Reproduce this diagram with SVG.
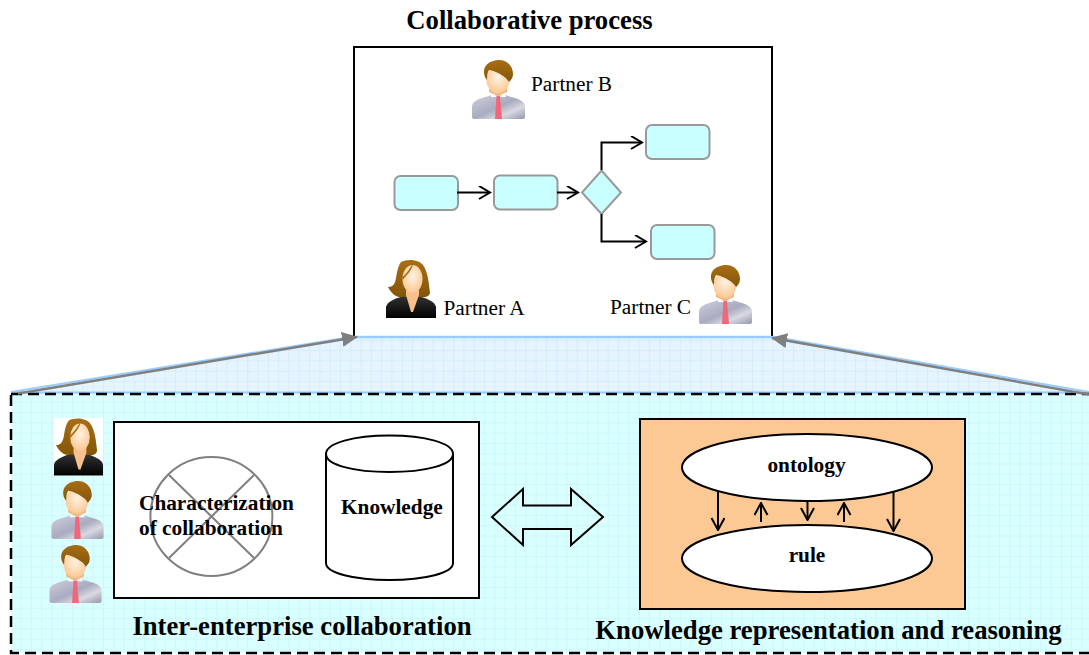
<svg xmlns="http://www.w3.org/2000/svg" width="1089" height="655" viewBox="0 0 1089 655">
<style>
text{font-family:"Liberation Serif","Times New Roman",serif;fill:#000}
.b{font-weight:bold}
.p{font-size:21.3px}
.h{font-size:26.7px}
.s{font-size:21.3px}
.t{fill:#c9ffff;stroke:#999;stroke-width:2}
.k{fill:none;stroke:#000;stroke-width:2;marker-end:url(#o)}
.m{fill:none;stroke:#000;stroke-width:2;marker-end:url(#s)}
.g{stroke:#7f7f7f;stroke-width:2.5;fill:none;marker-end:url(#g)}
</style>
<defs>
<marker id="o" markerWidth="14" markerHeight="14" refX="12" refY="7" orient="auto" markerUnits="userSpaceOnUse"><path d="M1 0.5L12 7L1 13.5" fill="none" stroke="#000" stroke-width="2"/></marker>
<marker id="s" markerWidth="14" markerHeight="16" refX="13" refY="7" orient="auto" markerUnits="userSpaceOnUse"><path d="M1 0.5L13 7L1 13.5" fill="none" stroke="#000" stroke-width="2"/></marker>
<marker id="g" markerWidth="18" markerHeight="16" refX="15" refY="8" orient="auto" markerUnits="userSpaceOnUse"><path d="M0 0.5L16 8L0 15.5Z" fill="#7f7f7f"/></marker>
<pattern id="gc" width="10.3" height="10.3" patternUnits="userSpaceOnUse"><rect width="10.3" height="10.3" fill="#d9ffff"/><path d="M0 .5H10.3M.5 0V10.3" stroke="#ccf7fc" stroke-width="1"/></pattern>
<pattern id="gb" width="10.3" height="10.3" patternUnits="userSpaceOnUse"><rect width="10.3" height="10.3" fill="#e5f4fe"/><path d="M0 .5H10.3M.5 0V10.3" stroke="#d5ecfb" stroke-width="1"/></pattern>
<linearGradient id="suit" x1="0" y1="0" x2="1" y2="1"><stop offset="0" stop-color="#d0d1dc"/><stop offset=".5" stop-color="#a9abc0"/><stop offset=".72" stop-color="#d8d9e2"/><stop offset="1" stop-color="#9496ac"/></linearGradient>
<linearGradient id="hair" x1="0" y1="0" x2="0" y2="1"><stop offset="0" stop-color="#a86e14"/><stop offset="1" stop-color="#825608"/></linearGradient>
<radialGradient id="face" cx=".5" cy=".4" r=".65"><stop offset="0" stop-color="#fff2e2"/><stop offset="1" stop-color="#fbc48c"/></radialGradient>
<linearGradient id="blk" x1="0" y1="0" x2="0" y2="1"><stop offset="0" stop-color="#333"/><stop offset="1" stop-color="#000"/></linearGradient>
<symbol id="man" viewBox="0 0 53 59" overflow="visible">
<path d="M0 57V47C0 42 4 40 10 38L20 35H33L43 38C49 40 53 42 53 47V57Q53 59 50 59H3Q0 59 0 57Z" fill="url(#suit)"/>
<path d="M19 34.500L26 36L33 34.500L34 37H19Z" fill="#fff"/>
<path d="M24.500 36H28L30 59H23Z" fill="#f2667a"/>
<path d="M17 26H35V32L26 36L17 32Z" fill="#f3b57e"/>
<ellipse cx="26" cy="20" rx="11.500" ry="13.500" fill="url(#face)"/>
<path d="M15 20C12 17 11 11 13 7C16 2 22 0 27 0C35 0 41 6 41 14C41 17 40 19 37 22C35 18 30 15 26 13C22 11 19 10 17 10C15 13 15 17 15 20Z" fill="url(#hair)"/>
</symbol>
<symbol id="woman" viewBox="0 0 50 58" overflow="visible">
<path d="M0 58V47C1 42 8 39 17 36L33 36C42 39 49 42 50 47V58Z" fill="url(#blk)"/>
<path d="M15 2C21 -1 32 -1 37 5C42 12 43 24 44 33C43 37 38 38 34 37L16 37C12 38 6 35 2 27C7 27 9 24 10 18C11 12 12 6 15 2Z" fill="url(#hair)"/>
<path d="M20 30H33V35L27 52H25L20 35Z" fill="#f6c08e"/>
<ellipse cx="26.500" cy="19" rx="10" ry="14" fill="url(#face)"/>
<path d="M16.500 17C20 14 24 9 27 3C27 9 21 15 16.500 20Z" fill="#a06c16"/>
</symbol>
</defs>

<g id="bottom-panel">
<path d="M357 337H772L1089 394H11Z" fill="url(#gb)"/>
<rect x="11" y="394" width="1090" height="259" fill="url(#gc)"/>
<path d="M772 336.500L1089 392M11 392.500H1089M11 392L357 336" fill="none" stroke="#99ccff" stroke-width="2"/>
<rect x="11" y="394" width="1090" height="259" fill="none" stroke="#000" stroke-width="2.500" stroke-dasharray="11 6"/>
</g>

<g id="process-box">
<rect x="354" y="47" width="418" height="289" fill="#fff"/>
<path d="M354 336V47H772V336" fill="none" stroke="#000" stroke-width="2"/>
<path d="M357 337H772" fill="none" stroke="#99ccff" stroke-width="2.500"/>
<text x="529.500" y="29" text-anchor="middle" class="b h">Collaborative process</text>
</g>

<g id="task-1"><rect class="t" x="394.500" y="176" width="63.500" height="34" rx="6"/></g>
<g id="task-2"><rect class="t" x="494" y="175.500" width="63.500" height="34" rx="6"/></g>
<g id="gateway"><path class="t" d="M601.500 170.500L621 192.500L601.500 214L582 192.500Z"/></g>
<g id="task-3"><rect class="t" x="646" y="125" width="63.500" height="34" rx="6"/></g>
<g id="task-4"><rect class="t" x="651" y="225" width="63.500" height="34" rx="6"/></g>

<g id="partner-b"><use href="#man" x="472" y="60" width="53" height="59"/><text class="p" x="531" y="91">Partner B</text></g>
<g id="partner-a"><use href="#woman" x="386" y="260" width="50" height="58"/><text class="p" x="443.500" y="315">Partner A</text></g>
<g id="partner-c"><use href="#man" x="699" y="265" width="53" height="59"/><text class="p" x="610" y="314">Partner C</text></g>

<g id="partners-list">
<rect x="54" y="418" width="49" height="58" fill="#fff"/>
<use href="#woman" x="54" y="418" width="49" height="58"/>
<use href="#man" x="51" y="481" width="53" height="58"/>
<use href="#man" x="49" y="545" width="53" height="58"/>
</g>

<g id="inter-enterprise">
<rect x="114" y="422" width="365" height="176" fill="#fff" stroke="#000" stroke-width="2"/>
<text x="302" y="635" text-anchor="middle" class="b h">Inter-enterprise collaboration</text>
</g>
<g id="characterization">
<ellipse cx="211.400" cy="516.500" rx="61" ry="59.500" fill="#fff" stroke="#7f7f7f" stroke-width="2"/>
<path d="M169 475L254 558M254 475L169 558" stroke="#7f7f7f" stroke-width="2"/>
<text x="139" y="510" class="b s">Characterization</text>
<text x="139" y="535" class="b s">of collaboration</text>
</g>
<g id="knowledge">
<path d="M326 454V563C326 573 354 580 389.500 580S453 573 453 563V454C453 443 425 435.500 389.500 435.500S326 443 326 454Z" fill="#fff" stroke="#000" stroke-width="2"/>
<path d="M326 454C326 465 354 472 389.500 472S453 465 453 454" fill="none" stroke="#000" stroke-width="2"/>
<text x="341" y="514" class="b s">Knowledge</text>
</g>

<g id="double-arrow"><path d="M492 517L523 489V505.500H571V489L603 517L571 545V529H523V545Z" fill="none" stroke="#000" stroke-width="2"/></g>

<g id="knowledge-rep">
<rect x="640" y="419" width="325" height="190" fill="#fcc995" stroke="#000" stroke-width="2"/>
<text x="828.500" y="639" text-anchor="middle" class="b h">Knowledge representation and reasoning</text>
</g>
<g id="ontology"><ellipse cx="807" cy="467.500" rx="125" ry="33.500" fill="#fff" stroke="#000" stroke-width="2"/><text x="806.500" y="472" text-anchor="middle" class="b s">ontology</text></g>
<g id="rule"><ellipse cx="807" cy="558.500" rx="125" ry="33.500" fill="#fff" stroke="#000" stroke-width="2"/><text x="807" y="562" text-anchor="middle" class="b s">rule</text></g>

<g id="connectors">
<path class="g" d="M18 393.500L357 337"/>
<path class="g" d="M1089 394.500L772 338"/>
<path class="k" d="M457 192.500H490"/>
<path class="k" d="M557 192.500H578"/>
<path class="k" d="M601.500 170V142.500H642"/>
<path class="k" d="M601.500 214V241.500H646"/>
<path class="m" d="M718 492V530"/>
<path class="m" d="M761 522V503"/>
<path class="m" d="M807.500 502V520"/>
<path class="m" d="M844 522V503"/>
<path class="m" d="M893.500 492V531"/>
</g>
</svg>
